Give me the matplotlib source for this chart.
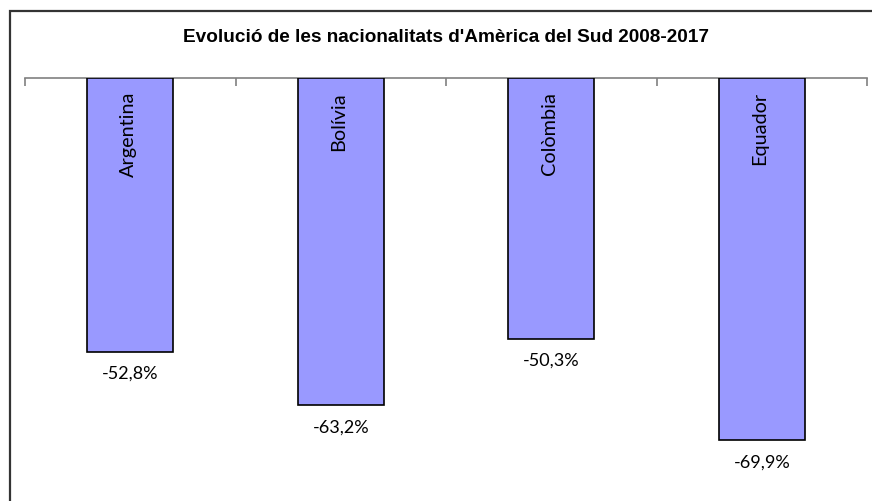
import matplotlib as mpl

mpl.use("Agg")
import matplotlib.pyplot as plt
from matplotlib.patches import Rectangle

# data
countries = ["Argentina", "Bolívia", "Colòmbia", "Equador"]
change_pct = [-52.8, -63.2, -50.3, -69.9]
title = "Evolució de les nacionalitats d'Amèrica del Sud 2008-2017"

W, H = 872, 501
fig = plt.figure(figsize=(W / 100, H / 100), dpi=100)

# outer chart frame (cropped at the right and bottom in the reference)
fig.patches.append(Rectangle((9.5 / W, -0.1), 2.0, 1.1 - 10.5 / H,
                             transform=fig.transFigure, fill=False,
                             edgecolor="#333333", linewidth=1.6))

left, right = 25 / W, 867 / W
top_px = 78
ymin = -80
px_per_unit = 5.18
bottom_px = top_px - ymin * px_per_unit
ax = fig.add_axes([left, 1 - bottom_px / H, right - left, (bottom_px - top_px) / H])
ax.set_xlim(-0.5, len(countries) - 0.5)
ax.set_ylim(ymin, 0)
ax.patch.set_visible(False)

x = list(range(len(countries)))
ax.bar(x, change_pct, width=0.41, color="#9999FF", edgecolor="black",
       linewidth=1.2, zorder=2)

for xi, name, val in zip(x, countries, change_pct):
    ax.text(xi - 0.01, -2.7, name, rotation=90, ha="center", va="top",
            fontsize=14.3, family="Lato", color="black", zorder=3)
    ax.text(xi, val - 2.8, f"{val:.1f}%".replace(".", ","), ha="center",
            va="top", fontsize=13, family="Lato", color="black", zorder=3)

# category axis at the top (value 0) with ticks between categories
for side in ["left", "right", "bottom"]:
    ax.spines[side].set_visible(False)
ax.spines["top"].set_color("#808080")
ax.spines["top"].set_linewidth(1.2)
ax.spines["top"].set_zorder(1)
ax.set_yticks([])
ax.xaxis.tick_top()
ax.set_xticks([i - 0.5 for i in range(len(countries) + 1)])
ax.set_xticklabels([])
ax.tick_params(axis="x", direction="in", length=6, color="#808080", width=1.2)

fig.text(446 / W, 1 - 37.5 / H, title, ha="center", va="center",
         fontsize=13.7, fontweight="bold", family="Liberation Sans")

fig.savefig("out.png", dpi=100)
